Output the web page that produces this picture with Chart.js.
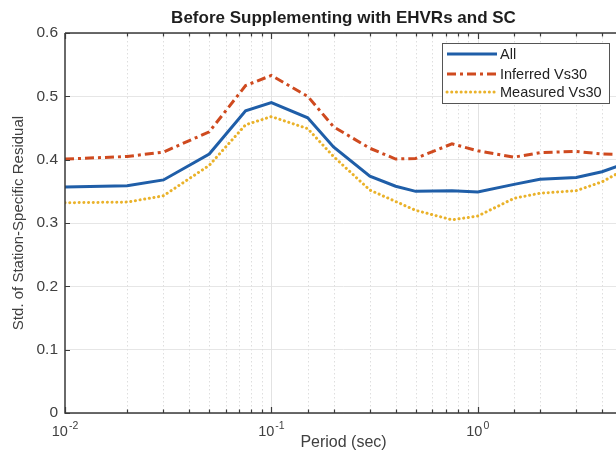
<!DOCTYPE html>
<html><head><meta charset="utf-8">
<script src="https://cdn.jsdelivr.net/npm/chart.js@4"></script>
<style>
html,body{margin:0;padding:0;background:#fff;overflow:hidden;width:616px;height:450px}
#wrap{position:relative;width:640px;height:450px}
</style></head>
<body><div id="wrap"><canvas id="c" width="640" height="450"></canvas></div>
<script>
const chartTitle = 'Before Supplementing with EHVRs and SC';
const xTitle = 'Period (sec)';
const yTitle = 'Std. of Station-Specific Residual';
const periods = [0.01,0.02,0.03,0.05,0.075,0.1,0.15,0.2,0.3,0.4,0.5,0.75,1,1.5,2,3,4,5];
const allVals = [0.357,0.359,0.368,0.409,0.477,0.490,0.466,0.420,0.374,0.358,0.350,0.351,0.349,0.361,0.369,0.372,0.381,0.392];
const inferredVals = [0.401,0.405,0.412,0.444,0.517,0.533,0.500,0.452,0.418,0.401,0.402,0.425,0.414,0.404,0.411,0.413,0.409,0.408];
const measuredVals = [0.332,0.333,0.343,0.391,0.455,0.468,0.449,0.405,0.352,0.334,0.320,0.305,0.311,0.339,0.347,0.351,0.365,0.382];
const seriesLabels = ['All','Inferred Vs30','Measured Vs30'];
const xDecades = [0.01,0.1,1];
const xExponents = ['-2','-1','0'];

const pts = vals => periods.map((p,i)=>({x:p,y:vals[i]}));
const FONT = '"Liberation Sans", Arial, Helvetica, sans-serif';
const AXIS = '#3a3a3a';
const TXT = '#404040';

const deco = {
  id:'deco',
  beforeDatasetsDraw(chart){
    const {ctx, chartArea:a, scales:{x}} = chart;
    ctx.save();
    x.ticks.forEach(t=>{
      const px = Math.round(x.getPixelForValue(t.value))+0.5;
      if (px <= a.left+1 || px >= a.right-1) return;
      const lg = Math.log10(t.value);
      const major = Math.abs(lg-Math.round(lg))<1e-9;
      ctx.beginPath();
      ctx.strokeStyle = major ? '#e2e2e2' : '#dedede';
      ctx.lineWidth = 1;
      ctx.setLineDash(major ? [] : [1.5,2.5]);
      ctx.moveTo(px,a.top); ctx.lineTo(px,a.bottom); ctx.stroke();
    });
    ctx.restore();
  },
  afterDatasetsDraw(chart){
    const {ctx, chartArea:a, scales:{x,y}} = chart;
    ctx.save();
    ctx.setLineDash([]);
    ctx.strokeStyle = AXIS; ctx.lineWidth = 1.5;
    ctx.beginPath();
    ctx.moveTo(a.left, a.top); ctx.lineTo(a.right, a.top);
    ctx.moveTo(a.left, a.top); ctx.lineTo(a.left, a.bottom); ctx.lineTo(a.right, a.bottom);
    ctx.lineTo(a.right, a.top);
    ctx.stroke();
    ctx.lineWidth = 1.2;
    ctx.beginPath();
    x.ticks.forEach(t=>{
      const px = Math.round(x.getPixelForValue(t.value))+0.5;
      const lg = Math.log10(t.value);
      const major = Math.abs(lg-Math.round(lg))<1e-9;
      const len = major ? 6 : 3.5;
      ctx.moveTo(px,a.bottom); ctx.lineTo(px,a.bottom-len);
      ctx.moveTo(px,a.top); ctx.lineTo(px,a.top+len);
    });
    y.ticks.forEach(t=>{
      const py = Math.round(y.getPixelForValue(t.value))+0.5;
      ctx.moveTo(a.left,py); ctx.lineTo(a.left+5,py);
      ctx.moveTo(a.right,py); ctx.lineTo(a.right-5,py);
    });
    ctx.stroke();

    ctx.fillStyle = TXT;
    ctx.textBaseline = 'alphabetic';
    xDecades.forEach((v,i)=>{
      const px = x.getPixelForValue(v);
      ctx.font = '14.5px '+FONT;
      const w1 = ctx.measureText('10').width;
      ctx.font = '10.5px '+FONT;
      const w2 = ctx.measureText(xExponents[i]).width;
      const start = px - (w1+1+w2)/2;
      ctx.font = '14.5px '+FONT;
      ctx.textAlign = 'left';
      ctx.fillText('10', start, 436);
      ctx.font = '10.5px '+FONT;
      ctx.fillText(xExponents[i], start+w1+1, 429);
    });

    ctx.fillStyle = TXT;
    ctx.font = '16px '+FONT;
    ctx.textAlign = 'center';
    ctx.fillText(xTitle, (a.left+a.right)/2, 447);
    ctx.save();
    ctx.translate(19, (a.top+a.bottom)/2);
    ctx.rotate(-Math.PI/2);
    ctx.textBaseline = 'middle';
    ctx.font = '15px '+FONT;
    ctx.fillText(yTitle, 0, 0);
    ctx.restore();

    ctx.fillStyle = '#1e1e1e';
    ctx.font = 'bold 17px '+FONT;
    ctx.textAlign = 'center';
    ctx.textBaseline = 'alphabetic';
    ctx.fillText(chartTitle, (a.left+a.right)/2, 23);

    const lx = 442, ly = 43, lw = 167, lh = 60;
    ctx.fillStyle = '#fff';
    ctx.fillRect(lx,ly,lw,lh);
    ctx.strokeStyle = '#555'; ctx.lineWidth = 1;
    ctx.strokeRect(lx+0.5,ly+0.5,lw,lh);
    const rows = [54,74,92];
    chart.data.datasets.forEach((ds,i)=>{
      ctx.save();
      ctx.strokeStyle = ds.borderColor;
      ctx.lineWidth = ds.borderWidth;
      ctx.lineCap = ds.borderCapStyle || 'butt';
      ctx.setLineDash(ds.borderDash || []);
      ctx.beginPath();
      ctx.moveTo(447, rows[i]); ctx.lineTo(497, rows[i]);
      ctx.stroke();
      ctx.restore();
      ctx.fillStyle = '#222';
      ctx.font = '14.5px '+FONT;
      ctx.textAlign = 'left';
      ctx.textBaseline = 'middle';
      ctx.fillText(ds.label, 500, rows[i]+1);
    });
    ctx.restore();
  }
};

new Chart(document.getElementById('c'), {
  type:'line',
  data:{datasets:[
    {label:seriesLabels[0], data:pts(allVals), borderColor:'#1f5ea8', borderWidth:3, pointRadius:0, tension:0, fill:false},
    {label:seriesLabels[1], data:pts(inferredVals), borderColor:'#cf4a1f', borderWidth:3, borderDash:[9,4,3,4], pointRadius:0, tension:0, fill:false},
    {label:seriesLabels[2], data:pts(measuredVals), borderColor:'#eab22a', borderWidth:3, borderDash:[0.1,4.6], borderCapStyle:'round', pointRadius:0, tension:0, fill:false}
  ]},
  options:{
    responsive:false, animation:false, devicePixelRatio:1,
    layout:{padding:{top:33,right:18,left:0,bottom:0}},
    plugins:{legend:{display:false}, tooltip:{enabled:false}, title:{display:false}},
    scales:{
      x:{type:'logarithmic', min:0.01, max:5,
         grid:{display:false, drawTicks:false}, border:{display:false},
         ticks:{callback:()=> '', autoSkip:false, maxRotation:0},
         afterFit:s=>{s.height=37;}},
      y:{min:0, max:0.6,
         grid:{color:'#e6e6e6', lineWidth:1, drawTicks:false}, border:{display:false},
         ticks:{stepSize:0.1, padding:7, color:TXT, font:{family:FONT, size:15.5},
                callback:v=> v===0 ? '0' : v.toFixed(1)},
         afterFit:s=>{s.width=65;}}
    }
  },
  plugins:[deco]
});
</script>
</body></html>
